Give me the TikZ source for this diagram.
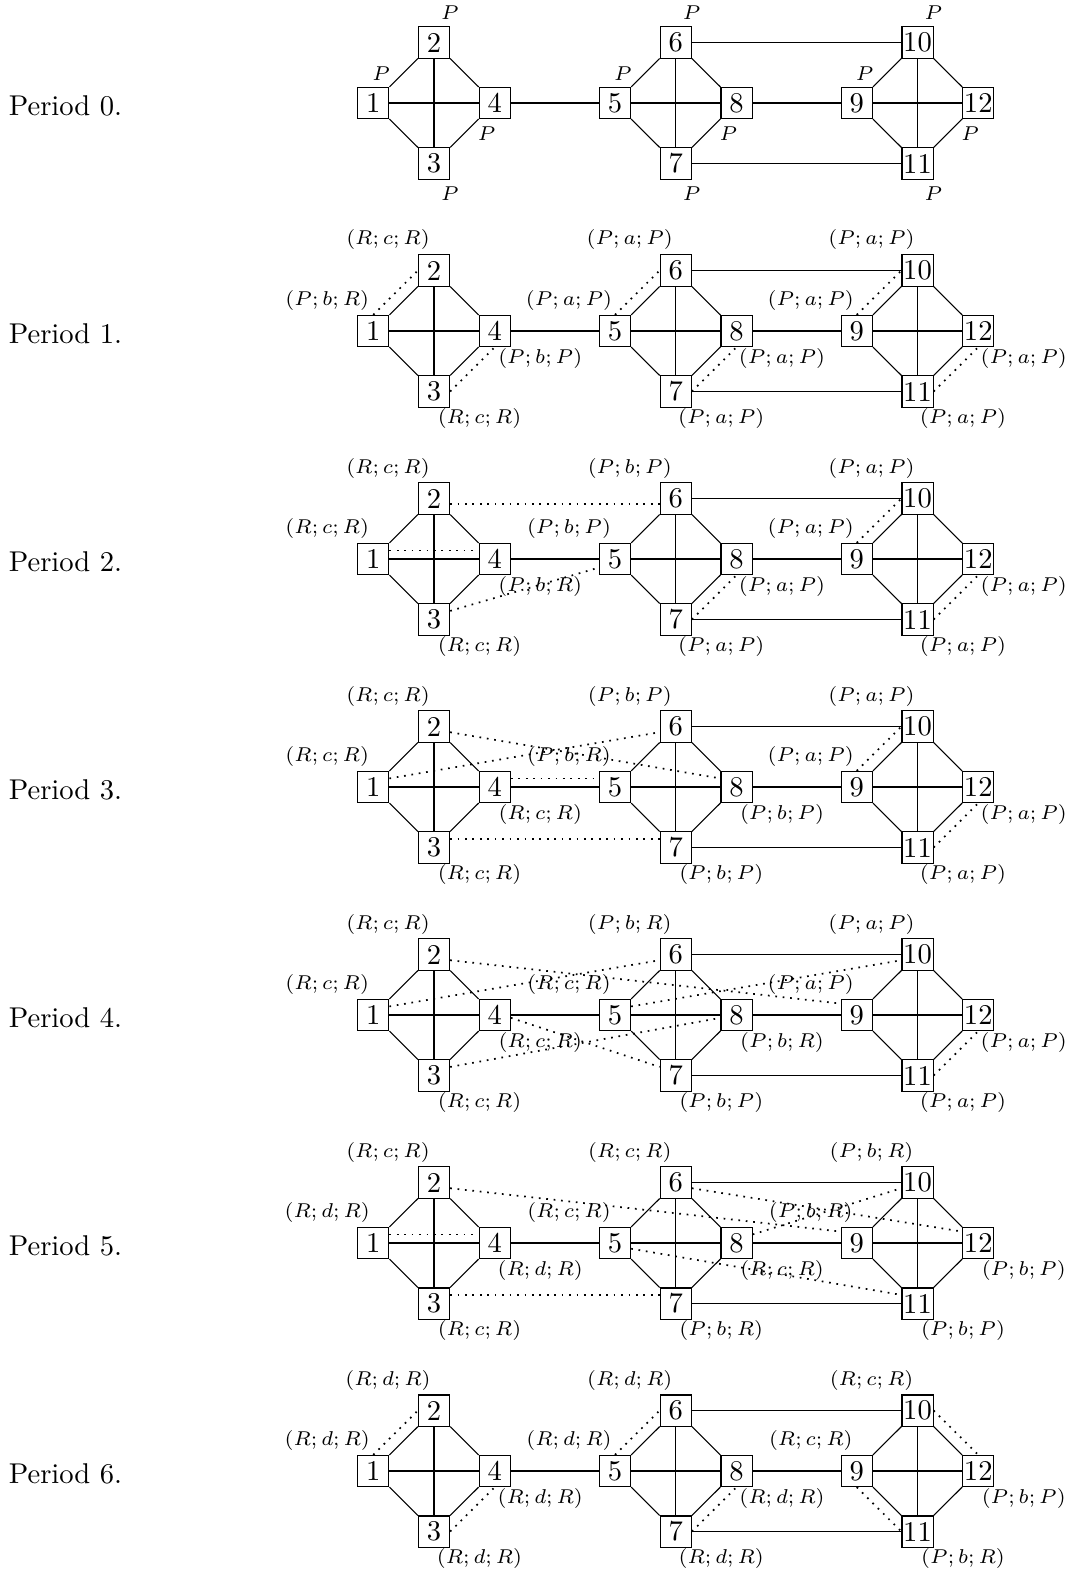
\documentclass[tikz,border=0pt]{standalone}
\begin{document}
\begin{tikzpicture}[x=0.3497pt,y=-0.3497pt,
  box/.style={draw, rectangle, minimum size=10.9pt, inner sep=0.3pt},
  lab/.style={font=\fontsize{7.5pt}{9pt}\selectfont, inner sep=0pt},
  tr/.style={dotted, semithick}]
\useasboundingbox (0,0) rectangle (1067,1574);
\foreach \p in {0,...,6}{
  \pgfmathsetmacro\Y{103+228*\p}
  \node[anchor=base west, inner sep=0pt] (T\p) at (8.3,\Y+12.5) {Period \p.};
  \foreach \c in {0,1,2}{
    \pgfmathsetmacro\X{373.25+241.75*\c}
    \pgfmathtruncatemacro\nA{4*\c+1}
    \pgfmathtruncatemacro\nB{4*\c+2}
    \pgfmathtruncatemacro\nC{4*\c+3}
    \pgfmathtruncatemacro\nD{4*\c+4}
    \node[box] (P\p N\nA) at (\X,\Y) {\nA};
    \node[box] (P\p N\nB) at (\X+60.75,\Y-60.5) {\nB};
    \node[box] (P\p N\nC) at (\X+60.75,\Y+60.5) {\nC};
    \node[box] (P\p N\nD) at (\X+121.5,\Y) {\nD};
    \draw (P\p N\nA) -- (P\p N\nB);
    \draw (P\p N\nB) -- (P\p N\nD);
    \draw (P\p N\nD) -- (P\p N\nC);
    \draw (P\p N\nC) -- (P\p N\nA);
    \draw (P\p N\nA) -- (P\p N\nD);
    \draw (P\p N\nB) -- (P\p N\nC);
  }
  \draw (P\p N4) -- (P\p N5);
  \draw (P\p N6) -- (P\p N10);
  \draw (P\p N8) -- (P\p N9);
  \draw (P\p N7) -- (P\p N11);
}
% Period 0 labels
\foreach \k/\dx/\dy in {1/8/-29,5/8/-29,9/8/-29,2/16/-30,6/16/-30,10/16/-30,3/16/30,7/16/30,11/16/30,4/-8/30.5,8/-8/30.5,12/-8/30.5}{
  \node[lab] (L0N\k) at ([shift={(\dx,\dy)}]P0N\k) {$P$};
}
\newcommand\UL[2]{\node[lab] (L#1) at ([shift={(-46,-30.5)}]#1) {$#2$};}
\newcommand\DR[2]{\node[lab] (L#1) at ([shift={(45.5,27)}]#1) {$#2$};}
% Period 1
\UL{P1N1}{(P;b;R)} \UL{P1N2}{(R;c;R)} \DR{P1N3}{(R;c;R)} \DR{P1N4}{(P;b;P)}
\UL{P1N5}{(P;a;P)} \UL{P1N6}{(P;a;P)} \DR{P1N7}{(P;a;P)} \DR{P1N8}{(P;a;P)}
\UL{P1N9}{(P;a;P)} \UL{P1N10}{(P;a;P)} \DR{P1N11}{(P;a;P)} \DR{P1N12}{(P;a;P)}
\draw[tr] (P1N1.north) -- (P1N2.west);
\draw[tr] (P1N3.east) -- (P1N4.south);
\draw[tr] (P1N5.north) -- (P1N6.west);
\draw[tr] (P1N7.east) -- (P1N8.south);
\draw[tr] (P1N9.north) -- (P1N10.west);
\draw[tr] (P1N11.east) -- (P1N12.south);
% Period 2
\UL{P2N1}{(R;c;R)} \UL{P2N2}{(R;c;R)} \DR{P2N3}{(R;c;R)} \DR{P2N4}{(P;b;R)}
\UL{P2N5}{(P;b;P)} \UL{P2N6}{(P;b;P)} \DR{P2N7}{(P;a;P)} \DR{P2N8}{(P;a;P)}
\UL{P2N9}{(P;a;P)} \UL{P2N10}{(P;a;P)} \DR{P2N11}{(P;a;P)} \DR{P2N12}{(P;a;P)}
\draw[tr] ([yshift=-2pt]P2N2.east) -- ([yshift=-2pt]P2N6.west);
\draw[tr] ([yshift=3pt]P2N1.east) -- ([yshift=3pt]P2N4.west);
\draw[tr] ([yshift=3pt]P2N3.east) -- ([yshift=-3pt]P2N5.west);
\draw[tr] (P2N7.east) -- (P2N8.south);
\draw[tr] (P2N9.north) -- (P2N10.west);
\draw[tr] (P2N11.east) -- (P2N12.south);
% Period 3
\UL{P3N1}{(R;c;R)} \UL{P3N2}{(R;c;R)} \DR{P3N3}{(R;c;R)} \DR{P3N4}{(R;c;R)}
\UL{P3N5}{(P;b;R)} \UL{P3N6}{(P;b;P)} \DR{P3N7}{(P;b;P)} \DR{P3N8}{(P;b;P)}
\UL{P3N9}{(P;a;P)} \UL{P3N10}{(P;a;P)} \DR{P3N11}{(P;a;P)} \DR{P3N12}{(P;a;P)}
\draw[tr] ([yshift=-2pt]P3N2.east) -- ([yshift=3pt]P3N8.west);
\draw[tr] ([yshift=3pt]P3N1.east) -- ([yshift=-2pt]P3N6.west);
\draw[tr] ([yshift=3pt]P3N4.east) -- ([yshift=3pt]P3N5.west);
\draw[tr] ([yshift=3pt]P3N3.east) -- ([yshift=3pt]P3N7.west);
\draw[tr] (P3N9.north) -- (P3N10.west);
\draw[tr] (P3N11.east) -- (P3N12.south);
% Period 4
\UL{P4N1}{(R;c;R)} \UL{P4N2}{(R;c;R)} \DR{P4N3}{(R;c;R)} \DR{P4N4}{(R;c;R)}
\UL{P4N5}{(R;c;R)} \UL{P4N6}{(P;b;R)} \DR{P4N7}{(P;b;P)} \DR{P4N8}{(P;b;R)}
\UL{P4N9}{(P;a;P)} \UL{P4N10}{(P;a;P)} \DR{P4N11}{(P;a;P)} \DR{P4N12}{(P;a;P)}
\draw[tr] ([yshift=-2pt]P4N2.east) -- ([yshift=4pt]P4N9.west);
\draw[tr] ([yshift=3pt]P4N1.east) -- ([yshift=-2pt]P4N6.west);
\draw[tr] ([yshift=3pt]P4N5.east) -- ([yshift=-2pt]P4N10.west);
\draw[tr] ([yshift=-1pt]P4N4.east) -- ([yshift=3pt]P4N7.west);
\draw[tr] ([yshift=3pt]P4N3.east) -- ([yshift=-1pt]P4N8.west);
\draw[tr] (P4N11.east) -- (P4N12.south);
% Period 5
\UL{P5N1}{(R;d;R)} \UL{P5N2}{(R;c;R)} \DR{P5N3}{(R;c;R)} \DR{P5N4}{(R;d;R)}
\UL{P5N5}{(R;c;R)} \UL{P5N6}{(R;c;R)} \DR{P5N7}{(P;b;R)} \DR{P5N8}{(R;c;R)}
\UL{P5N9}{(P;b;R)} \UL{P5N10}{(P;b;R)} \DR{P5N11}{(P;b;P)} \DR{P5N12}{(P;b;P)}
\draw[tr] ([yshift=3pt]P5N1.east) -- ([yshift=3pt]P5N4.west);
\draw[tr] ([yshift=3pt]P5N3.east) -- ([yshift=3pt]P5N7.west);
\draw[tr] ([yshift=-2pt]P5N2.east) -- ([yshift=4pt]P5N9.west);
\draw[tr] ([yshift=-2pt]P5N6.east) -- ([yshift=4pt]P5N12.west);
\draw[tr] ([yshift=3pt]P5N8.east) -- ([yshift=-2pt]P5N10.west);
\draw[tr] ([yshift=-2pt]P5N5.east) -- ([yshift=3pt]P5N11.west);
% Period 6
\UL{P6N1}{(R;d;R)} \UL{P6N2}{(R;d;R)} \DR{P6N3}{(R;d;R)} \DR{P6N4}{(R;d;R)}
\UL{P6N5}{(R;d;R)} \UL{P6N6}{(R;d;R)} \DR{P6N7}{(R;d;R)} \DR{P6N8}{(R;d;R)}
\UL{P6N9}{(R;c;R)} \UL{P6N10}{(R;c;R)} \DR{P6N11}{(P;b;R)} \DR{P6N12}{(P;b;P)}
\draw[tr] (P6N1.north) -- (P6N2.west);
\draw[tr] (P6N3.east) -- (P6N4.south);
\draw[tr] (P6N5.north) -- (P6N6.west);
\draw[tr] (P6N7.east) -- (P6N8.south);
\draw[tr] (P6N10.east) -- (P6N12.north);
\draw[tr] (P6N9.south) -- (P6N11.west);
\end{tikzpicture}
\end{document}
